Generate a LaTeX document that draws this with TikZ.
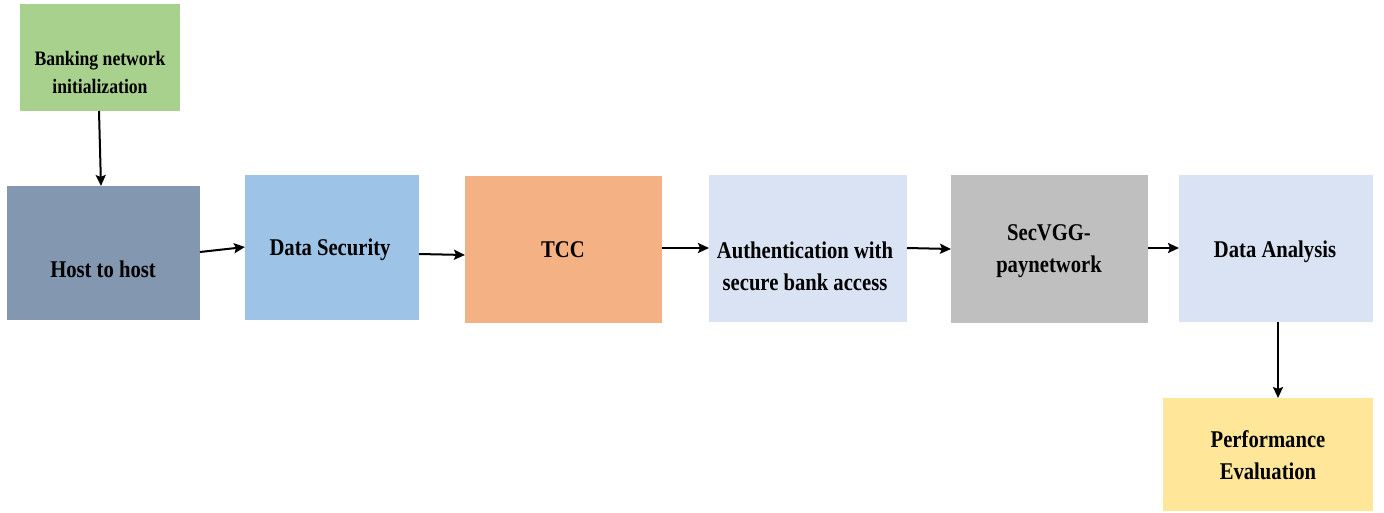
\documentclass[tikz,border=0pt]{standalone}
\usepackage{fontspec}
\setmainfont{Liberation Serif}[FakeStretch=0.86]
\usetikzlibrary{arrows.meta}
\definecolor{cbank}{HTML}{A9D18E}
\definecolor{chost}{HTML}{8497B0}
\definecolor{cds}{HTML}{9DC3E6}
\definecolor{ctcc}{HTML}{F4B183}
\definecolor{cauth}{HTML}{DAE3F3}
\definecolor{csec}{HTML}{BFBFBF}
\definecolor{cperf}{HTML}{FFE699}
\begin{document}
\begin{tikzpicture}[x=1pt,y=-1pt,
  box/.style={draw=none,inner sep=0pt,outer sep=0pt},
  lbl/.style={font=\fontsize{24}{32}\selectfont\bfseries,align=center,inner sep=0pt},
  slbl/.style={font=\fontsize{20.5}{28}\selectfont\bfseries,align=center,inner sep=0pt},
  arr/.style={line width=2pt,-{Stealth[length=11pt,width=10pt,inset=2pt]}}]
\useasboundingbox (0,0) rectangle (1384,513);
\node[box,fill=cbank,minimum width=160pt,minimum height=107pt] (bank) at (100,57.5) {};
\node[box,fill=chost,minimum width=193pt,minimum height=134pt] (host) at (103.5,253) {};
\node[box,fill=cds,minimum width=174pt,minimum height=145pt] (ds) at (332,247.5) {};
\node[box,fill=ctcc,minimum width=197pt,minimum height=147pt] (tcc) at (563.5,249.5) {};
\node[box,fill=cauth,minimum width=198pt,minimum height=147pt] (auth) at (808,248.5) {};
\node[box,fill=csec,minimum width=197pt,minimum height=148pt] (sec) at (1049.5,249) {};
\node[box,fill=cauth,minimum width=194pt,minimum height=147pt] (da) at (1276,248.5) {};
\node[box,fill=cperf,minimum width=210pt,minimum height=113pt] (perf) at (1268,454.5) {};

\node[slbl] (tbank) at (100,72) {Banking network\\initialization};
\node[lbl] (thost) at (103,269) {Host to host};
\node[lbl] (tds) at (330,250) {Data Security};
\node[lbl] (ttcc) at (563,250) {TCC};
\node[lbl] (tauth) at (805,266) {Authentication with\\secure bank access};
\node[lbl] (tsec) at (1049,251) {SecVGG-\\paynetwork};
\node[lbl] (tda) at (1275,252) {Data Analysis};
\node[lbl] (tperf) at (1268,455) {Performance\\Evaluation};

\draw[arr] ([xshift=-1pt]bank.south) -- ([xshift=-2.5pt]host.north);
\draw[arr] ([yshift=1pt]host.east) -- ([yshift=0.5pt]ds.west);
\draw[arr] ([yshift=-6.5pt]ds.east) -- ([yshift=-5.5pt]tcc.west);
\draw[arr] ([yshift=1.5pt]tcc.east) -- ([yshift=0.5pt]auth.west);
\draw[arr] ([yshift=0.5pt]auth.east) -- (sec.west);
\draw[arr] ([yshift=1pt]sec.east) -- ([yshift=0.5pt]da.west);
\draw[arr] ([xshift=2pt]da.south) -- ([xshift=10pt]perf.north);
\end{tikzpicture}
\end{document}
